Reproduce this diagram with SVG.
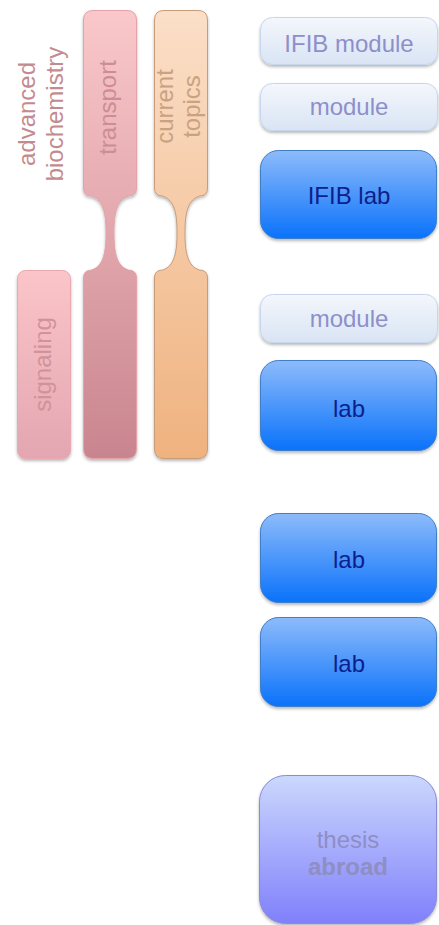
<svg xmlns="http://www.w3.org/2000/svg" width="439" height="925" viewBox="0 0 439 925">
<style>
  text { font-family: "Liberation Sans", Arial, sans-serif; font-size: 24px; }
  .mod rect { fill: url(#gMod); stroke: #c6d6ef; stroke-width: 1; filter: url(#sh); }
  .mod text { fill: #8d8fcb; text-anchor: middle; }
  .lab rect { fill: url(#gLab); stroke: #3f7fc8; stroke-width: 1; filter: url(#sh); }
  .lab text { fill: #0d1f8c; text-anchor: middle; }
  .bar { filter: url(#sh); }
</style>
<defs>
  <filter id="sh" x="-20%" y="-20%" width="140%" height="140%">
    <feDropShadow dx="0" dy="2" stdDeviation="1.8" flood-color="#000" flood-opacity="0.28"/>
  </filter>
  <linearGradient id="gMod" x1="0" y1="0" x2="0" y2="1">
    <stop offset="0" stop-color="#f4f7fc"/>
    <stop offset="1" stop-color="#d9e4f4"/>
  </linearGradient>
  <linearGradient id="gLab" x1="0" y1="0" x2="0" y2="1">
    <stop offset="0" stop-color="#8dbbfb"/>
    <stop offset="1" stop-color="#0a72fa"/>
  </linearGradient>
  <linearGradient id="gThesis" x1="0" y1="0" x2="0" y2="1">
    <stop offset="0" stop-color="#cbd8fd"/>
    <stop offset="1" stop-color="#8080fb"/>
  </linearGradient>
  <linearGradient id="gTrans" gradientUnits="userSpaceOnUse" x1="0" y1="10" x2="0" y2="459">
    <stop offset="0" stop-color="#fac8ca"/>
    <stop offset="1" stop-color="#c9858f"/>
  </linearGradient>
  <linearGradient id="gCur" gradientUnits="userSpaceOnUse" x1="0" y1="10" x2="0" y2="459">
    <stop offset="0" stop-color="#fbdfc8"/>
    <stop offset="1" stop-color="#efb27f"/>
  </linearGradient>
  <linearGradient id="gSig" x1="0" y1="0" x2="0" y2="1">
    <stop offset="0" stop-color="#fbc5c8"/>
    <stop offset="1" stop-color="#e3a6b2"/>
  </linearGradient>
</defs>

<g id="advanced-biochemistry">
  <text transform="translate(35,114) rotate(-90)" text-anchor="middle" fill="#c48b8f">advanced</text>
  <text transform="translate(63,114) rotate(-90)" text-anchor="middle" fill="#c48b8f">biochemistry</text>
</g>

<g id="signaling">
  <rect class="bar" x="17.5" y="270.5" width="53" height="188" rx="8" fill="url(#gSig)" stroke="#e8a9b1"/>
  <text transform="translate(51,364.5) rotate(-90)" text-anchor="middle" fill="#d0939b">signaling</text>
</g>

<g id="transport">
  <path class="bar" d="M83.5,20 Q83.5,10.5 93,10.5 H127 Q136.5,10.5 136.5,20 V188 Q136.5,196 128.5,196 C116,200 114,215 114,233 C114,251 116,266 128.5,270 Q136.5,270 136.5,278 V449 Q136.5,458.5 127,458.5 H93 Q83.5,458.5 83.5,449 V278 Q83.5,270 91.5,270 C104,266 106,251 106,233 C106,215 104,200 91.5,196 Q83.5,196 83.5,188 Z" fill="url(#gTrans)" stroke="#e2a3a9"/>
  <text transform="translate(116,107.5) rotate(-90)" text-anchor="middle" fill="#cc8d94">transport</text>
</g>

<g id="current-topics">
  <path class="bar" d="M154.5,20 Q154.5,10.5 164,10.5 H198 Q207.5,10.5 207.5,20 V188 Q207.5,196 199.5,196 C187,200 185,215 185,233 C185,251 187,266 199.5,270 Q207.5,270 207.5,278 V449 Q207.5,458.5 198,458.5 H164 Q154.5,458.5 154.5,449 V278 Q154.5,270 162.5,270 C175,266 177,251 177,233 C177,215 175,200 162.5,196 Q154.5,196 154.5,188 Z" fill="url(#gCur)" stroke="#c89b79"/>
  <text transform="translate(173,106.5) rotate(-90)" text-anchor="middle" fill="#c9a282">current</text>
  <text transform="translate(200,106.5) rotate(-90)" text-anchor="middle" fill="#c9a282">topics</text>
</g>

<g id="ifib-module" class="mod">
  <rect x="260.5" y="17.5" width="177" height="47" rx="12"/>
  <text x="349" y="52">IFIB module</text>
</g>
<g id="module-1" class="mod">
  <rect x="260.5" y="83.5" width="177" height="47" rx="12"/>
  <text x="349" y="115">module</text>
</g>
<g id="ifib-lab" class="lab">
  <rect x="260.5" y="150.5" width="176" height="88" rx="18"/>
  <text x="349" y="204">IFIB lab</text>
</g>
<g id="module-2" class="mod">
  <rect x="260.5" y="294.5" width="177" height="48" rx="12"/>
  <text x="349" y="327">module</text>
</g>
<g id="lab-1" class="lab">
  <rect x="260.5" y="360.5" width="176" height="90" rx="18"/>
  <text x="349" y="417">lab</text>
</g>
<g id="lab-2" class="lab">
  <rect x="260.5" y="513.5" width="176" height="89" rx="18"/>
  <text x="349" y="568">lab</text>
</g>
<g id="lab-3" class="lab">
  <rect x="260.5" y="617.5" width="176" height="89" rx="18"/>
  <text x="349" y="672">lab</text>
</g>
<g id="thesis-abroad">
  <rect x="259.5" y="775.5" width="177" height="148" rx="26" fill="url(#gThesis)" stroke="#8a8ad8" filter="url(#sh)"/>
  <text x="348" y="848" text-anchor="middle" fill="#8e8ec4">thesis</text>
  <text x="348" y="875" text-anchor="middle" fill="#8e8ec4" font-weight="bold">abroad</text>
</g>
<g id="connectors"></g>
</svg>
